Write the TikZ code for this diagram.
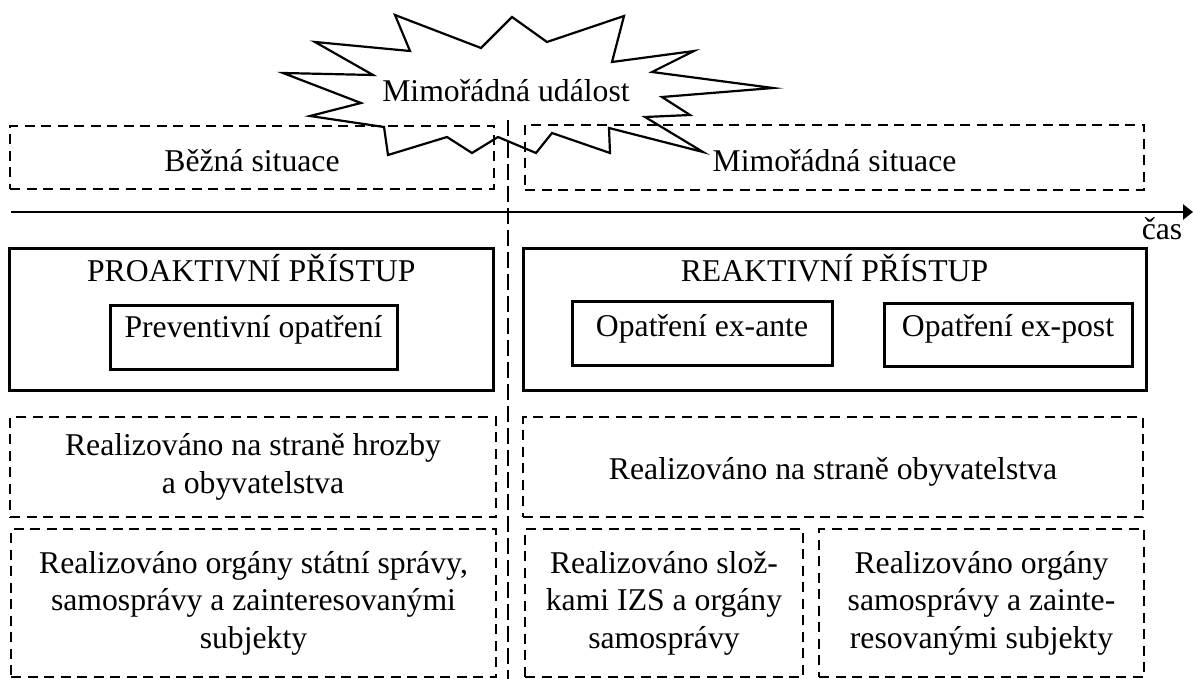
\documentclass[tikz,border=0pt]{standalone}
\usepackage{fontspec}
\setmainfont{Liberation Serif}
\usetikzlibrary{arrows.meta}

\begin{document}
\begin{tikzpicture}[x=1pt, y=-1pt,
      every node/.style = {shape=rectangle, align=center, inner sep=0pt,
        font=\fontsize{31.7}{37.5}\selectfont},
      dashbox/.style = {draw, line width=2.4pt, dash pattern=on 10pt off 6.5pt},
      solidbox/.style = {draw, line width=3pt},
      oneline/.style = {text height=22pt, text depth=#1}]
  \useasboundingbox (0,0) rectangle (1193,679);
  % time axis and the divide
  \coordinate (tstart) at (11,212);
  \coordinate (tend) at (1193,212);
  \coordinate (septop) at (508,120);
  \coordinate (sepbot) at (508,679);
  \draw[line width=2pt, dash pattern=on 16pt off 6pt] (septop) -- (sepbot);
  \draw[line width=2.5pt, -{Triangle[length=10pt,width=15pt]}] (tstart) -- (tend);
  \node[anchor=base] (cas) at (1162,239.3) {čas};
  % situations
  \node[dashbox, minimum width=484pt, minimum height=63pt,
    text height=30pt, text depth=1.6pt] (bezna) at (252,157.5) {Běžná situace};
  \node[dashbox, minimum width=619pt, minimum height=65pt,
    text height=30pt, text depth=1.6pt] (mimosit) at (834.5,157.5) {Mimořádná situace};
  % approaches
  \node[solidbox, minimum width=483.5pt, minimum height=142pt,
    oneline=96.6pt] (proakt) at (251.25,319) {PROAKTIVNÍ PŘÍSTUP};
  \node[solidbox, minimum width=623pt, minimum height=142pt,
    oneline=96.6pt] (reakt) at (834.5,319) {REAKTIVNÍ PŘÍSTUP};
  \node[solidbox, minimum width=287pt, minimum height=64pt,
    oneline=22pt] (prevent) at (253.5,337) {Preventivní opatření};
  \node[solidbox, minimum width=260pt, minimum height=64pt,
    oneline=16pt] (exante) at (702,333) {Opatření ex-ante};
  \node[solidbox, minimum width=248pt, minimum height=63pt,
    oneline=17.6pt] (expost) at (1008,334.5) {Opatření ex-post};
  % who and where
  \node[dashbox, minimum width=486pt, minimum height=100pt] (hrozba) at (253,467)
    {Realizováno na straně hrozby\\a obyvatelstva};
  \node[dashbox, minimum width=620pt, minimum height=100pt,
    text height=26pt, text depth=2pt] (obyv) at (833,467)
    {Realizováno na straně obyvatelstva};
  \node[dashbox, minimum width=485pt, minimum height=148pt] (statni) at (253.5,603)
    {Realizováno orgány státní správy,\\samosprávy a zainteresovanými\\subjekty};
  \node[dashbox, minimum width=278pt, minimum height=148pt] (izs) at (664,603)
    {Realizováno slož-\\kami IZS a orgány\\samosprávy};
  \node[dashbox, minimum width=325pt, minimum height=148pt] (samospr) at (981.5,603)
    {Realizováno orgány\\samosprávy a zainte-\\resovanými subjekty};
  % the event
  \draw[line width=2.2pt, line join=miter]
    (395,15) -- (481,48) -- (512,17) -- (547,42) -- (624,16) -- (612,62)
    -- (694,51) -- (652,72) -- (773,88) -- (662,97) -- (690,115) -- (645,117)
    -- (703,152) -- (609,128) -- (610,153) -- (552,133) -- (536,153) -- (498,137)
    -- (472,153) -- (447,137) -- (388,155) -- (384,127) -- (310,116) -- (361,103)
    -- (283,73) -- (373,75) -- (315,42) -- (410,51) -- cycle;
  \node[anchor=base] (udalost) at (506,102) {Mimořádná událost};
\end{tikzpicture}
\end{document}
